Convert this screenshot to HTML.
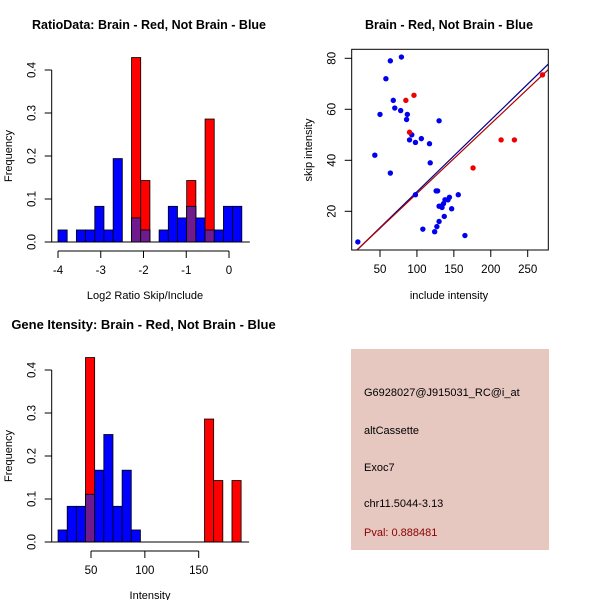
<!DOCTYPE html>
<html><head><meta charset="utf-8"><style>
html,body{margin:0;padding:0;background:#fff;}
svg{display:block;font-family:"Liberation Sans",Arial,sans-serif;}
</style></head><body>
<svg id="s" width="600" height="600" viewBox="0 0 600 600" xmlns="http://www.w3.org/2000/svg">
<g>
<text x="149" y="29" text-anchor="middle" font-size="12.5" font-weight="bold">RatioData: Brain - Red, Not Brain - Blue</text>
<text x="145" y="299" text-anchor="middle" font-size="11">Log2 Ratio Skip/Include</text>
<text transform="translate(12,156) rotate(-90)" text-anchor="middle" font-size="11">Frequency</text>
<g id="h1"></g>
</g>
<g>
<text x="449" y="29" text-anchor="middle" font-size="12.5" font-weight="bold">Brain - Red, Not Brain - Blue</text>
<text x="449" y="299" text-anchor="middle" font-size="11">include intensity</text>
<text transform="translate(312,150) rotate(-90)" text-anchor="middle" font-size="11">skip intensity</text>
<g id="sc"></g>
</g>
<g>
<text x="143.5" y="329" text-anchor="middle" font-size="13" font-weight="bold">Gene Itensity: Brain - Red, Not Brain - Blue</text>
<text x="150" y="599" text-anchor="middle" font-size="11">Intensity</text>
<text transform="translate(12,456) rotate(-90)" text-anchor="middle" font-size="11">Frequency</text>
<g id="h2"></g>
</g>
<g>
<rect x="351" y="349" width="198" height="201" fill="#e6c8c1"/>
<text x="364" y="396" font-size="11">G6928027@J915031_RC@i_at</text>
<text x="364" y="434" font-size="11">altCassette</text>
<text x="364" y="471" font-size="11">Exoc7</text>
<text x="364" y="507" font-size="11">chr11.5044-3.13</text>
<text x="364" y="536" font-size="11" fill="#8b0000">Pval: 0.888481</text>
</g>
</svg>
<script>
// Ratio histogram data
const ratioBinStart = -4, ratioBinWidth = 0.215;
const ratioBlue = [0.028,0,0.028,0.028,0.083,0.028,0.194,0,0.056,0.028,0,0.028,0.083,0.056,0.083,0.056,0.028,0.028,0.083,0.083];
const ratioRed  = [0,0,0,0,0,0,0,0,0.429,0.143,0,0,0,0,0.143,0,0.286,0,0,0];
const ratioXTicks = [-4,-3,-2,-1,0];
const freqTicks = [0,0.1,0.2,0.3,0.4];
// Intensity histogram data
const intBinStart = 19.4, intBinWidth = 8.5;
const intBlue = [0.028,0.083,0.083,0.111,0.167,0.25,0.083,0.167,0.028,0,0,0,0,0,0,0,0,0,0,0];
const intRed  = [0,0,0,0.429,0,0,0,0,0,0,0,0,0,0,0,0,0.286,0.143,0,0.143];
const intXTicks = [50,100,150];
// Scatter data
const blueInclude = [20,43,50,58,64,64,68,70,79,78,86,87,90,93,98,106,117,118,130,98,126,128,130,133,134,136,138,142,144,147,156,137,130,127,124,108,165];
const blueSkip    = [8,42,58,72,79,35,63.5,60.5,80.5,59.5,56,58,48,50,47,48.5,46.5,39,55.5,26.5,28,28,22,22,21.5,23,24.5,24.5,25.5,21,26.5,18,16,14,12,13,10.5];
const redInclude = [85,96,90,176,214,232,270];
const redSkip    = [63.5,65.5,51,37,48,48,73.5];
const blueFit = [-0.5,0.2815];
const redFit = [-0.3,0.273];
const scXTicks = [50,100,150,200,250];
const scYTicks = [20,40,60,80];

const NS="http://www.w3.org/2000/svg";
function mk(parent,tag,attrs){const e=document.createElementNS(NS,tag);for(const k in attrs)e.setAttribute(k,attrs[k]);parent.appendChild(e);return e;}

function hist(gid,y0,start,width,blue,red,xticks,xs,xTickMin,xTickMax){
  const g=document.getElementById(gid);
  const ys=v=>y0-v*430;
  const n=blue.length;
  for(let i=0;i<n;i++){
    const x1=xs(start+i*width),x2=xs(start+(i+1)*width);
    const b=blue[i],r=red[i];
    if(b>0){const e=mk(g,'rect',{x:x1,y:ys(b),width:x2-x1,height:ys(0)-ys(b),fill:'#0000ff',stroke:'#000','stroke-width':0.8});
      
      }
    if(r>0){const e=mk(g,'rect',{x:x1,y:ys(r),width:x2-x1,height:ys(0)-ys(r),fill:'#ff0000',stroke:'#000','stroke-width':0.8});
      
      }
    const m=Math.min(b,r);
    if(m>0){const e=mk(g,'rect',{x:x1,y:ys(m),width:x2-x1,height:ys(0)-ys(m),fill:'#701a90',stroke:'#000','stroke-width':0.8});
      
      }
  }
  const xe=xs(start+n*width), xb=xs(start);
  const base=mk(g,'line',{x1:xb-8,x2:xe+8,y1:ys(0),y2:ys(0),stroke:'#000'});
  
  
  const ax=51.7;
  const yl=mk(g,'line',{x1:ax,x2:ax,y1:ys(0),y2:ys(0.4),stroke:'#000'});
  
  
  freqTicks.forEach(t=>{
    mk(g,'line',{x1:ax-7,x2:ax,y1:ys(t),y2:ys(t),stroke:'#000'});
    const tx=mk(g,'text',{transform:`translate(${ax-16},${ys(t)}) rotate(-90)`,'text-anchor':'middle','font-size':11.5});
    tx.textContent=t.toFixed(1);
    
    
  });
  const axy=y0+9;
  const xl=mk(g,'line',{x1:xs(xTickMin),x2:xs(xTickMax),y1:axy,y2:axy,stroke:'#000'});
  
  
  xticks.forEach(t=>{
    mk(g,'line',{x1:xs(t),x2:xs(t),y1:axy,y2:axy+7,stroke:'#000'});
    const tx=mk(g,'text',{x:xs(t),y:axy+23,'text-anchor':'middle','font-size':11.5});
    tx.textContent=t;
    
    
  });
}
hist('h1',242,ratioBinStart,ratioBinWidth,ratioBlue,ratioRed,ratioXTicks,v=>58+(v+4)*42.75,-4,0);
hist('h2',542,intBinStart,intBinWidth,intBlue,intRed,intXTicks,v=>91+(v-50)*1.077,50,150);

(function(){
  const g=document.getElementById('sc');
  const L=351.7,R=548.3,T=49.3,B=250;
  const xs=v=>380+(v-50)*0.7385, ys=v=>211.3-(v-20)*2.55;
  const xmin=(L-380)/0.7385+50, xmax=(R-380)/0.7385+50;
  const cp=mk(g,'clipPath',{id:'cl'});mk(cp,'rect',{x:L,y:T,width:R-L,height:B-T});
  [[blueFit,'#00008b'],[redFit,'#b00000']].forEach(([f,c])=>{
    const l=mk(g,'line',{x1:xs(xmin),y1:ys(f[0]+f[1]*xmin),x2:xs(xmax),y2:ys(f[0]+f[1]*xmax),stroke:c,'stroke-width':1.2,'clip-path':'url(#cl)'});
    
    
  });
  blueInclude.forEach((x,i)=>{const c=mk(g,'circle',{cx:xs(x),cy:ys(blueSkip[i]),r:2.7,fill:'#0000ee'});
    
    });
  redInclude.forEach((x,i)=>{const c=mk(g,'circle',{cx:xs(x),cy:ys(redSkip[i]),r:2.7,fill:'#ee0000'});
    
    });
  const box=mk(g,'rect',{x:L,y:T,width:R-L,height:B-T,fill:'none',stroke:'#000'});
  
  
  scXTicks.forEach(t=>{mk(g,'line',{x1:xs(t),x2:xs(t),y1:B,y2:B+7,stroke:'#000'});
    const tx=mk(g,'text',{x:xs(t),y:B+23,'text-anchor':'middle','font-size':11.5});tx.textContent=t;
    
    });
  scYTicks.forEach(t=>{mk(g,'line',{x1:L-7,x2:L,y1:ys(t),y2:ys(t),stroke:'#000'});
    const tx=mk(g,'text',{transform:`translate(${L-16},${ys(t)}) rotate(-90)`,'text-anchor':'middle','font-size':11.5});tx.textContent=t;
    
    });
})();
</script>
</body></html>
